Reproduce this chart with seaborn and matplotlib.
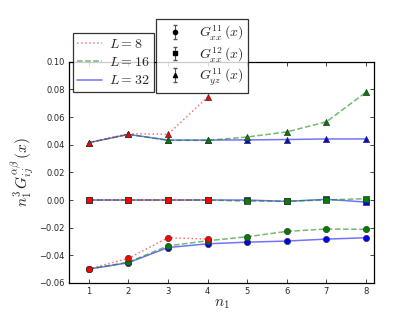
import numpy as np
import pandas as pd
import matplotlib
matplotlib.use("Agg")
import matplotlib.pyplot as plt
import seaborn as sns
from matplotlib.lines import Line2D

n = [1, 2, 3, 4, 5, 6, 7, 8]
sizes = [8, 16, 32]
colors = {8: "red", 16: "green", 32: "blue"}
styles = {8: ":", 16: "--", 32: "-"}

# G_xx^11 (circles)
gxx11 = {
    8: [-0.0500, -0.0422, -0.0273, -0.0283],
    16: [-0.0500, -0.0450, -0.0332, -0.0295, -0.0266, -0.0227, -0.0210, -0.0212],
    32: [-0.0500, -0.0454, -0.0344, -0.0317, -0.0305, -0.0297, -0.0283, -0.0273],
}
# G_xx^12 (squares)
gxx12 = {
    8: [0.0, 0.0, 0.0, 0.0],
    16: [0.0, 0.0, 0.0, 0.0, -0.0008, -0.0008, 0.0, 0.0010],
    32: [0.0, 0.0, 0.0, 0.0, 0.0, -0.0010, 0.0005, -0.0015],
}
# G_yz^11 (triangles)
gyz11 = {
    8: [0.0415, 0.0480, 0.0476, 0.0744],
    16: [0.0415, 0.0475, 0.0432, 0.0432, 0.0456, 0.0493, 0.0566, 0.0780],
    32: [0.0415, 0.0475, 0.0434, 0.0434, 0.0435, 0.0438, 0.0442, 0.0442],
}
observables = [("o", gxx11), ("s", gxx12), ("^", gyz11)]

sns.set_style("ticks")
plt.rcParams["font.family"] = ["DejaVu Sans"]
plt.rcParams["mathtext.fontset"] = "cm"
plt.rcParams["xtick.direction"] = "in"
plt.rcParams["ytick.direction"] = "in"

fig = plt.figure(figsize=(4.15, 3.14), dpi=100)
ax = fig.add_axes([0.166, 0.099, 0.735, 0.704])

for L in [32, 16, 8]:
    for mk, data in observables:
        y = data[L]
        x = n[:len(y)]
        df = pd.DataFrame({"n": x, "v": y})
        sns.lineplot(data=df, x="n", y="v", ax=ax, color=colors[L],
                     linestyle=styles[L], alpha=0.55, lw=1.1, legend=False)
        sns.scatterplot(data=df, x="n", y="v", ax=ax, color=colors[L],
                        marker=mk, s=20, edgecolor="#333333", linewidth=0.5,
                        legend=False, zorder=3)

ax.set_xlim(0.5, 8.2)
ax.set_ylim(-0.06, 0.10)
ax.set_xticks(n)
ax.set_yticks([-0.06, -0.04, -0.02, 0.0, 0.02, 0.04, 0.06, 0.08, 0.10])
ax.set_yticklabels(["\u22120.06", "\u22120.04", "\u22120.02", "0.00", "0.02",
                    "0.04", "0.06", "0.08", "0.10"])
ax.tick_params(axis="both", labelsize=6, top=True, right=True, length=3,
               width=0.6, pad=3)
for sp in ax.spines.values():
    sp.set_visible(True)
    sp.set_linewidth(0.9)
    sp.set_color("black")
ax.set_xlabel(r"$n_1$", fontsize=11, labelpad=0)
ax.set_ylabel(r"$n_1^3\,G_{ij}^{\alpha\beta}\,(x)$", fontsize=11, labelpad=2)

# legend 1: system sizes
h1 = [Line2D([], [], color=colors[L], linestyle=styles[L], alpha=0.55, lw=1.1)
      for L in sizes]
lab1 = [r"$L=%d$" % L for L in sizes]
leg1 = fig.legend(h1, lab1, loc="upper left", bbox_to_anchor=(0.176, 0.895),
                  fontsize=10, frameon=True, fancybox=False, handlelength=1.8,
                  borderpad=0.3, labelspacing=0.3, handletextpad=0.5,
                  borderaxespad=0)
leg1.get_frame().set_edgecolor("black")
leg1.get_frame().set_linewidth(0.9)

# legend 2: observables
h2 = []
for mk in ["o", "s", "^"]:
    c = ax.errorbar([np.nan], [np.nan], yerr=[0.01], fmt=mk, color="black",
                    ecolor="#555555", ms=3, capsize=1.5, elinewidth=0.8)
    h2.append(c)
lab2 = [r"$G^{11}_{xx}\,(x)$", r"$G^{12}_{xx}\,(x)$", r"$G^{11}_{yz}\,(x)$"]
leg2 = fig.legend(h2, lab2, loc="upper left", bbox_to_anchor=(0.377, 0.94),
                  fontsize=10, frameon=True, fancybox=False, handlelength=2.0,
                  borderpad=0.35, labelspacing=0.2, handletextpad=0.7,
                  borderaxespad=0)
leg2.get_frame().set_edgecolor("black")
leg2.get_frame().set_linewidth(0.9)

fig.savefig("out.png", dpi=100, facecolor="white")
